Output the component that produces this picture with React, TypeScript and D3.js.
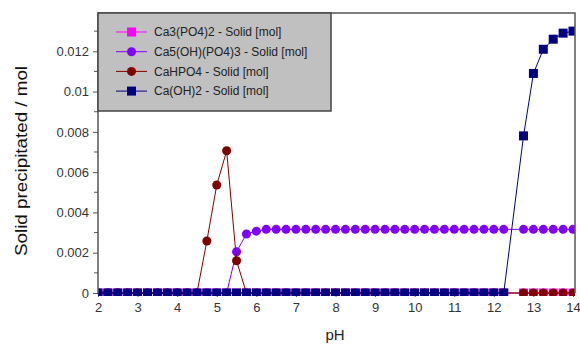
import * as d3 from 'd3';
import React, { useRef, useEffect } from 'react';

// pH grid (no point at 12.5 in the source data)
const pH = [
  2, 2.25, 2.5, 2.75, 3, 3.25, 3.5, 3.75, 4, 4.25, 4.5, 4.75, 5, 5.25, 5.5, 5.75,
  6, 6.25, 6.5, 6.75, 7, 7.25, 7.5, 7.75, 8, 8.25, 8.5, 8.75, 9, 9.25, 9.5, 9.75,
  10, 10.25, 10.5, 10.75, 11, 11.25, 11.5, 11.75, 12, 12.25,
  12.75, 13, 13.25, 13.5, 13.75, 14,
];

const ca3po42 = [
  0, 0, 0, 0, 0, 0, 0, 0, 0, 0, 0, 0, 0, 0, 0, 0,
  0, 0, 0, 0, 0, 0, 0, 0, 0, 0, 0, 0, 0, 0, 0, 0,
  0, 0, 0, 0, 0, 0, 0, 0, 0, 0,
  0, 0, 0, 0, 0, 0,
];

const ca5ohpo43 = [
  0, 0, 0, 0, 0, 0, 0, 0, 0, 0, 0, 0, 0, 0, 0.00205, 0.00293,
  0.00307, 0.00316, 0.00316, 0.00316, 0.00316, 0.00316, 0.00316, 0.00316, 0.00316, 0.00316, 0.00316, 0.00316, 0.00316, 0.00316, 0.00316, 0.00316,
  0.00316, 0.00316, 0.00316, 0.00316, 0.00316, 0.00316, 0.00316, 0.00316, 0.00316, 0.00316,
  0.00316, 0.00316, 0.00316, 0.00316, 0.00316, 0.00316,
];

const cahpo4 = [
  0, 0, 0, 0, 0, 0, 0, 0, 0, 0, 0, 0.00258, 0.00536, 0.00706, 0.0016, 0,
  0, 0, 0, 0, 0, 0, 0, 0, 0, 0, 0, 0, 0, 0, 0, 0,
  0, 0, 0, 0, 0, 0, 0, 0, 0, 0,
  0, 0, 0, 0, 0, 0,
];

const caoh2 = [
  0, 0, 0, 0, 0, 0, 0, 0, 0, 0, 0, 0, 0, 0, 0, 0,
  0, 0, 0, 0, 0, 0, 0, 0, 0, 0, 0, 0, 0, 0, 0, 0,
  0, 0, 0, 0, 0, 0, 0, 0, 0, 0,
  0.0078, 0.0109, 0.0121, 0.0126, 0.0129, 0.013,
];

const seriesNames = [
  'Ca3(PO4)2 - Solid [mol]',
  'Ca5(OH)(PO4)3 - Solid [mol]',
  'CaHPO4 - Solid [mol]',
  'Ca(OH)2 - Solid [mol]',
];
const seriesValues = [ca3po42, ca5ohpo43, cahpo4, caoh2];
const seriesColors = ['#ff00ff', '#8000ff', '#800000', '#000080'];
const seriesShapes = ['square', 'circle', 'circle', 'square'];

const xTicks = [2, 3, 4, 5, 6, 7, 8, 9, 10, 11, 12, 13, 14];
const yTicks = [0, 0.002, 0.004, 0.006, 0.008, 0.01, 0.012];
const yMinorTicks = [0.001, 0.003, 0.005, 0.007, 0.009, 0.011, 0.013];

function App() {
  const svgRef = useRef<SVGSVGElement>(null);

  useEffect(() => {
    document.body.style.margin = '0';
    const width = 580;
    const height = 347;
    const left = 98;
    const right = 575;
    const top = 13;
    const bottom = 293;
    const font = '"Liberation Sans", Arial, sans-serif';

    const svg = d3.select(svgRef.current);
    svg.selectAll('*').remove();
    svg.attr('width', width).attr('height', height);

    const x = d3.scaleLinear().domain([2, 14]).range([left, 573]);
    const y = d3.scaleLinear().domain([0, 0.0139]).range([bottom, top]);

    svg
      .append('defs')
      .append('clipPath')
      .attr('id', 'plotClip')
      .append('rect')
      .attr('x', left)
      .attr('y', top)
      .attr('width', right - left)
      .attr('height', 296 - top);

    /* Axes */
    const axisColor = '#555';
    svg
      .append('line')
      .attr('x1', left).attr('x2', right)
      .attr('y1', bottom).attr('y2', bottom)
      .attr('stroke', '#888').attr('stroke-width', 1);

    const yAxis = d3.axisLeft(y).tickValues(yTicks).tickSize(5).tickFormat((d) => String(+d));
    const gy = svg.append('g').attr('transform', `translate(${left},0)`).call(yAxis);
    gy.select('.domain').remove();
    gy.selectAll('line').attr('stroke', axisColor);
    gy.selectAll('text')
      .attr('x', -9)
      .attr('fill', '#333')
      .style('font-family', font)
      .style('font-size', '13px');

    svg
      .append('g')
      .selectAll('line')
      .data(yMinorTicks)
      .enter()
      .append('line')
      .attr('x1', left - 4).attr('x2', left)
      .attr('y1', (d) => y(d)).attr('y2', (d) => y(d))
      .attr('stroke', axisColor);

    const xAxis = d3.axisBottom(x).tickValues(xTicks).tickSize(4).tickFormat(d3.format('d'));
    const gx = svg.append('g').attr('transform', `translate(0,${bottom})`).call(xAxis);
    gx.select('.domain').remove();
    gx.selectAll('line').attr('stroke', axisColor);
    gx.selectAll('text')
      .attr('y', 10)
      .attr('fill', '#333')
      .style('font-family', font)
      .style('font-size', '13px');

    /* Series */
    const plot = svg.append('g').attr('clip-path', 'url(#plotClip)');
    const symSquare = d3.symbol().type(d3.symbolSquare).size(81);
    const symCircle = d3.symbol().type(d3.symbolCircle).size(64);

    seriesValues.forEach((values, i) => {
      const pts = pH.map((p, j) => [p, values[j]] as [number, number]);
      const line = d3
        .line<[number, number]>()
        .x((d) => x(d[0]))
        .y((d) => y(d[1]));
      plot
        .append('path')
        .attr('d', line(pts))
        .attr('fill', 'none')
        .attr('stroke', seriesColors[i])
        .attr('stroke-width', 1);
      plot
        .append('g')
        .selectAll('path')
        .data(pts)
        .enter()
        .append('path')
        .attr('d', seriesShapes[i] === 'square' ? symSquare() : symCircle())
        .attr('transform', (d) => `translate(${x(d[0])},${y(d[1])})`)
        .attr('fill', seriesColors[i]);
    });

    /* Frame */
    svg
      .append('path')
      .attr('d', `M${left},${bottom}V${top}H${right}V${bottom}`)
      .attr('fill', 'none')
      .attr('stroke', '#555')
      .attr('stroke-width', 1.5);

    /* Legend */
    const legend = svg.append('g');
    legend
      .append('rect')
      .attr('x', left)
      .attr('y', top)
      .attr('width', 233)
      .attr('height', 98)
      .attr('fill', '#c0c0c0')
      .attr('stroke', '#444')
      .attr('stroke-width', 1.5);

    const items = legend
      .selectAll('g.item')
      .data(seriesNames)
      .enter()
      .append('g')
      .attr('class', 'item')
      .attr('transform', (d, i) => `translate(0,${32 + i * 19.7})`);
    items
      .append('line')
      .attr('x1', 116).attr('x2', 147)
      .attr('stroke', (d, i) => seriesColors[i]);
    items
      .append('path')
      .attr('d', (d, i) => (seriesShapes[i] === 'square' ? symSquare() : symCircle()))
      .attr('transform', 'translate(131.5,0)')
      .attr('fill', (d, i) => seriesColors[i]);
    items
      .append('text')
      .attr('x', 154)
      .attr('dy', '0.36em')
      .attr('fill', '#222')
      .style('font-family', font)
      .style('font-size', '12px')
      .text((d) => d);

    /* Titles */
    svg
      .append('text')
      .attr('transform', 'translate(27,161) rotate(-90)')
      .attr('text-anchor', 'middle')
      .attr('textLength', 190)
      .attr('lengthAdjust', 'spacingAndGlyphs')
      .attr('fill', '#111')
      .style('font-family', font)
      .style('font-size', '16px')
      .text('Solid precipitated / mol');

    svg
      .append('text')
      .attr('x', 335)
      .attr('y', 340)
      .attr('text-anchor', 'middle')
      .attr('fill', '#222')
      .style('font-family', font)
      .style('font-size', '15px')
      .text('pH');
  }, []);

  return <svg ref={svgRef} style={{ display: 'block' }}></svg>;
}

export default App;
